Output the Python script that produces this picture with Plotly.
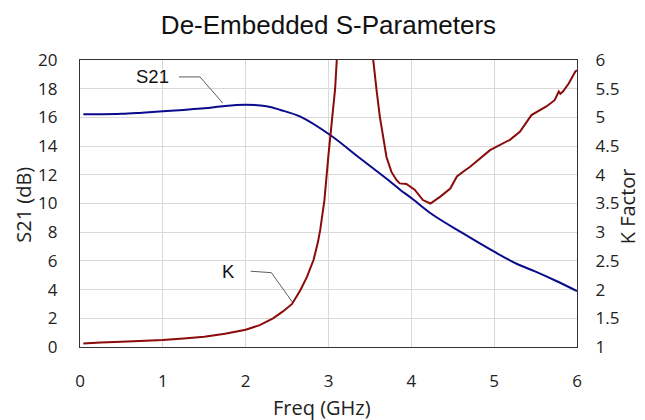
import plotly.graph_objects as go

freq_s21 = [0.04, 0.25, 0.5, 0.75, 1.0, 1.25, 1.5, 1.75, 2.0, 2.25, 2.42, 2.66, 3.02,
            3.38, 3.74, 3.86, 4.0, 4.25, 4.6, 5.0, 5.27, 5.5, 5.75, 6.0]
s21_db = [16.22, 16.22, 16.25, 16.33, 16.42, 16.52, 16.63, 16.8, 16.88, 16.78, 16.52, 16.05, 14.77,
          13.15, 11.55, 10.98, 10.38, 9.25, 8.0, 6.64, 5.8, 5.25, 4.6, 3.9]

freq_k = [0.04, 0.25, 0.5, 0.75, 1.0, 1.25, 1.5, 1.75, 2.0, 2.17, 2.33, 2.45, 2.56, 2.66, 2.74,
          2.82, 2.87, 2.9, 2.95, 3.0, 3.05, 3.08, 3.1, 3.2, 3.32, 3.45, 3.54, 3.58, 3.62, 3.66,
          3.70, 3.76, 3.82, 3.86, 3.94, 4.04, 4.14, 4.23, 4.35, 4.47, 4.55, 4.65, 4.71,
          4.95, 5.19, 5.31, 5.45, 5.63, 5.73, 5.78, 5.80, 5.83, 5.90, 5.98, 6.0]
k_factor = [1.06, 1.08, 1.09, 1.10, 1.12, 1.15, 1.18, 1.23, 1.30, 1.38, 1.50, 1.62, 1.75, 1.99, 2.22,
            2.52, 2.81, 3.04, 3.55, 4.35, 5.05, 5.5, 6.0, 9.0, 11.0, 9.0, 6.0, 5.48, 5.01, 4.66,
            4.31, 4.05, 3.91, 3.85, 3.84, 3.74, 3.56, 3.50, 3.62, 3.76, 3.97, 4.08, 4.14,
            4.43, 4.61, 4.75, 5.04, 5.19, 5.30, 5.45, 5.41, 5.45, 5.59, 5.80, 5.82]

x_ticks = [0, 1, 2, 3, 4, 5, 6]
y_ticks = [0, 2, 4, 6, 8, 10, 12, 14, 16, 18, 20]
k_ticks = [1, 1.5, 2, 2.5, 3, 3.5, 4, 4.5, 5, 5.5, 6]
k_labels = ["1", "1.5", "2", "2.5", "3", "3.5", "4", "4.5", "5", "5.5", "6"]

TICKFONT = dict(family="Open Sans", size=17, color="#222")
TITLEFONT = dict(family="Open Sans", size=20, color="#222")

fig = go.Figure()
fig.add_trace(go.Scatter(x=freq_s21, y=s21_db, mode="lines", line=dict(color="#0A0A8C", width=2),
                         line_shape="spline", name="S21"))
fig.add_trace(go.Scatter(x=freq_k, y=k_factor, mode="lines", line=dict(color="#8B0A0A", width=2),
                         name="K", yaxis="y2"))

# leader lines
fig.add_shape(type="path", path="M 1.195 18.82 L 1.449 18.82 L 1.723 17.0", xref="x", yref="y",
              line=dict(color="#333", width=0.8))
fig.add_shape(type="path", path="M 2.06 5.28 L 2.31 5.18 L 2.568 3.1", xref="x", yref="y",
              line=dict(color="#333", width=0.8))
fig.add_annotation(x=0.875, y=18.82, xref="x", yref="y", text="S21", showarrow=False,
                   font=dict(family="Liberation Sans", size=18.5, color="#111"))
fig.add_annotation(x=1.787, y=5.25, xref="x", yref="y", text="K", showarrow=False,
                   font=dict(family="Liberation Sans", size=18.5, color="#111"))

# axis titles
fig.add_annotation(x=0.486, y=-0.212, xref="paper", yref="paper", text="Freq (GHz)",
                   showarrow=False, xanchor="center", yanchor="middle", font=TITLEFONT)
fig.add_annotation(x=-0.113, y=0.495, xref="paper", yref="paper", text="S21 (dB)",
                   showarrow=False, xanchor="center", yanchor="middle", textangle=-90, font=TITLEFONT)
fig.add_annotation(x=1.101, y=0.491, xref="paper", yref="paper", text="K Factor",
                   showarrow=False, xanchor="center", yanchor="middle", textangle=-90, font=TITLEFONT)

# page body has an 8px margin; figure sized/positioned to compensate
fig.update_layout(
    width=637, height=412,
    margin=dict(l=72, r=68, t=52, b=73, autoexpand=False),
    paper_bgcolor="white", plot_bgcolor="white",
    showlegend=False,
    title=dict(text="De-Embedded S-Parameters", xref="paper", x=0.5, xanchor="center",
               y=0.958, yanchor="middle",
               font=dict(family="Liberation Sans", size=26, color="#111")),
    xaxis=dict(range=[0, 6], tickvals=x_ticks, showgrid=True, gridcolor="#d9d9d9", gridwidth=1,
               showline=True, linecolor="#333", linewidth=1.2, mirror=True, zeroline=False,
               ticks="outside", ticklen=18, tickcolor="rgba(0,0,0,0)", tickfont=TICKFONT,
               automargin=False),
    yaxis=dict(range=[0, 20], tickvals=y_ticks, showgrid=True, gridcolor="#d9d9d9", gridwidth=1,
               showline=True, linecolor="#333", linewidth=1.2, zeroline=False,
               ticks="outside", ticklen=18, tickcolor="rgba(0,0,0,0)", tickfont=TICKFONT,
               automargin=False),
    yaxis2=dict(range=[1, 6], tickvals=k_ticks, ticktext=k_labels, overlaying="y", side="right",
                showgrid=False, showline=True, linecolor="#333", linewidth=1.2, zeroline=False,
                ticks="outside", ticklen=14, tickcolor="rgba(0,0,0,0)", tickfont=TICKFONT,
                automargin=False),
)

fig.write_html("out.html")
